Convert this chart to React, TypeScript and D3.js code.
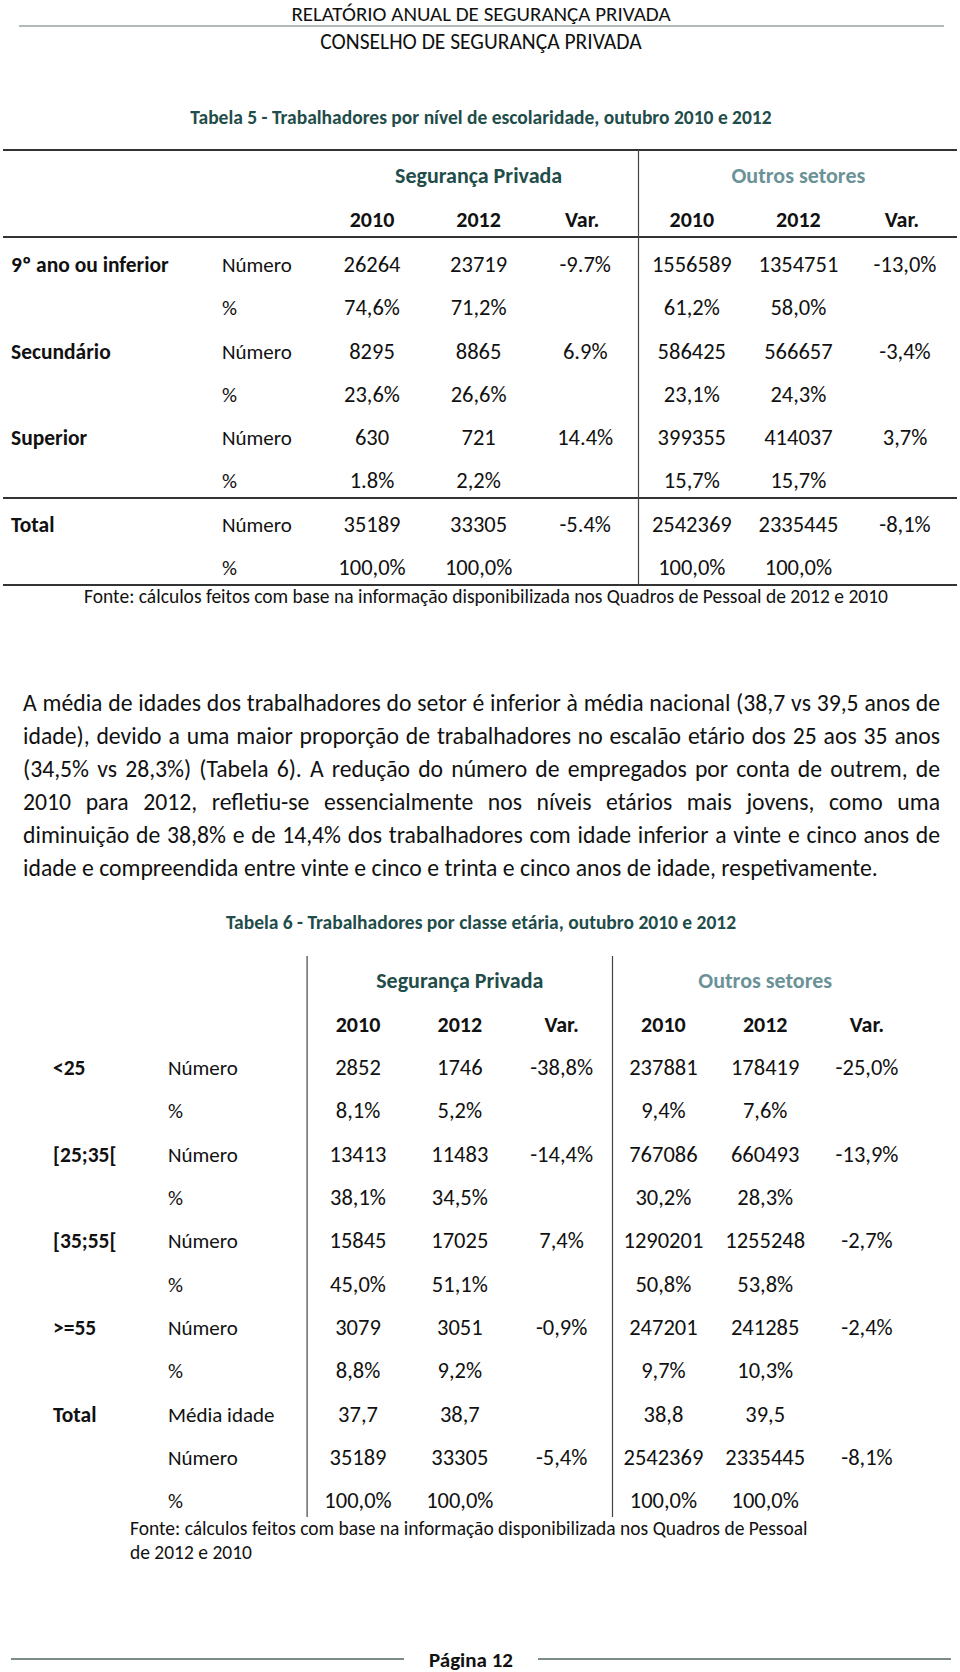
import React, { useEffect, useRef } from "react";
import * as d3 from "d3";

const W = 960;
const H = 1672;
const FONT = "Carlito, Calibri, Lato, sans-serif";
const TEAL = "#1f4d4a";
const TEAL_LIGHT = "#6b9297";

// Tabela 5 - escolaridade
const levels = ["9º ano ou inferior", "Secundário", "Superior", "Total"];
const segNum2010 = [26264, 8295, 630, 35189];
const segNum2012 = [23719, 8865, 721, 33305];
const segVar = ["-9.7%", "6.9%", "14.4%", "-5.4%"];
const segPct2010 = ["74,6%", "23,6%", "1.8%", "100,0%"];
const segPct2012 = ["71,2%", "26,6%", "2,2%", "100,0%"];
const outNum2010 = [1556589, 586425, 399355, 2542369];
const outNum2012 = [1354751, 566657, 414037, 2335445];
const outVar = ["-13,0%", "-3,4%", "3,7%", "-8,1%"];
const outPct2010 = ["61,2%", "23,1%", "15,7%", "100,0%"];
const outPct2012 = ["58,0%", "24,3%", "15,7%", "100,0%"];

// Tabela 6 - classe etária
const ages = ["<25", "[25;35[", "[35;55[", ">=55"];
const segAge2010 = [2852, 13413, 15845, 3079];
const segAge2012 = [1746, 11483, 17025, 3051];
const segAgeVar = ["-38,8%", "-14,4%", "7,4%", "-0,9%"];
const segAgePct2010 = ["8,1%", "38,1%", "45,0%", "8,8%"];
const segAgePct2012 = ["5,2%", "34,5%", "51,1%", "9,2%"];
const outAge2010 = [237881, 767086, 1290201, 247201];
const outAge2012 = [178419, 660493, 1255248, 241285];
const outAgeVar = ["-25,0%", "-13,9%", "-2,7%", "-2,4%"];
const outAgePct2010 = ["9,4%", "30,2%", "50,8%", "9,7%"];
const outAgePct2012 = ["7,6%", "28,3%", "53,8%", "10,3%"];
const mediaIdade = ["37,7", "38,7", "38,8", "39,5"];
const totalNum = [35189, 33305, 2542369, 2335445];
const totalVar = ["-5,4%", "-8,1%"];

const years = ["2010", "2012", "Var.", "2010", "2012", "Var."];

const paragraph = [
  "A média de idades dos trabalhadores do setor é inferior à média nacional (38,7 vs 39,5 anos de",
  "idade), devido a uma maior proporção de trabalhadores no escalão etário dos 25 aos 35 anos",
  "(34,5% vs 28,3%) (Tabela 6). A redução do número de empregados por conta de outrem, de",
  "2010 para 2012, refletiu-se essencialmente nos níveis etários mais jovens, como uma",
  "diminuição de 38,8% e de 14,4% dos trabalhadores com idade inferior a vinte e cinco anos de",
  "idade e compreendida entre vinte e cinco e trinta e cinco anos de idade, respetivamente.",
];

const TS = 22.5; // table text size

export default function App() {
  const ref = useRef<SVGSVGElement>(null);

  useEffect(() => {
    const svg = d3.select(ref.current);
    svg.selectAll("*").remove();
    svg.attr("font-family", FONT);

    const text = (x, y, s, opts: any = {}) =>
      svg.append("text")
        .attr("x", x).attr("y", y)
        .attr("text-anchor", opts.anchor || "middle")
        .attr("font-size", opts.size || TS)
        .attr("font-weight", opts.bold ? "bold" : "normal")
        .attr("fill", opts.color || "#111")
        .text(s);

    const line = (x1, y1, x2, y2, color, w) =>
      svg.append("line")
        .attr("x1", x1).attr("y1", y1).attr("x2", x2).attr("y2", y2)
        .attr("stroke", color).attr("stroke-width", w);

    // page header
    text(481, 20.5, "RELATÓRIO ANUAL DE SEGURANÇA PRIVADA", { size: 21 });
    line(19, 26, 944, 26, "#9aa3a3", 1.5);
    text(481, 49, "CONSELHO DE SEGURANÇA PRIVADA", { size: 21.5 });

    // ---------- Tabela 5 ----------
    text(481, 124, "Tabela 5 - Trabalhadores por nível de escolaridade, outubro 2010 e 2012", { size: 19.5, bold: true, color: TEAL });

    const x5 = d3.scalePoint<number>().domain(d3.range(6)).range([372, 905]);
    const y5 = d3.scaleLinear().domain([0, 7]).range([272, 575]);

    const rows5 = levels.flatMap((lv, i) => [
      [lv, "Número", String(segNum2010[i]), String(segNum2012[i]), segVar[i], String(outNum2010[i]), String(outNum2012[i]), outVar[i]],
      ["", "%", segPct2010[i], segPct2012[i], "", outPct2010[i], outPct2012[i], ""],
    ]);

    const mid5 = ((x5(2) as number) + (x5(3) as number)) / 2;
    line(3, 150, 957, 150, "#333", 2);
    line(3, 237, 957, 237, "#333", 2);
    line(3, 498, 957, 498, "#333", 2);
    line(3, 585, 957, 585, "#333", 2);
    line(mid5, 150, mid5, 585, "#444", 1.2);

    text(((x5(0) as number) + (x5(2) as number)) / 2, 183, "Segurança Privada", { bold: true, color: TEAL, size: 22 });
    text(((x5(3) as number) + (x5(5) as number)) / 2, 183, "Outros setores", { bold: true, color: TEAL_LIGHT, size: 22 });
    years.forEach((yr, j) => text(x5(j) - (j % 3 === 2 ? 3 : 0), 227, yr, { bold: true, size: 22 }));

    rows5.forEach((r, i) => {
      const y = y5(i);
      if (r[0]) text(11, y, r[0], { anchor: "start", bold: true, size: 21.5 });
      text(222, y, r[1], { anchor: "start", size: 21 });
      r.slice(2).forEach((v, j) => { if (v) text(x5(j), y, v); });
    });

    text(486, 603, "Fonte: cálculos feitos com base na informação disponibilizada nos Quadros de Pessoal de 2012 e 2010", { size: 19.5 });

    // ---------- paragraph (justified) ----------
    const left = 23, right = 940, lh = 33, top = 711, ps = 23.7;
    paragraph.forEach((ln, i) => {
      const words = ln.split(" ");
      const g = svg.append("g");
      const nodes = words.map((w) =>
        g.append("text").attr("font-size", ps).attr("fill", "#111").attr("y", top + i * lh).text(w)
      );
      const widths = nodes.map((n) => (n.node() as SVGTextElement).getComputedTextLength());
      const sum = d3.sum(widths);
      const last = i === paragraph.length - 1;
      const gap = last ? ps * 0.23 : (right - left - sum) / (words.length - 1);
      let x = left;
      nodes.forEach((n, k) => { n.attr("x", x); x += widths[k] + gap; });
    });

    // ---------- Tabela 6 ----------
    text(481, 929, "Tabela 6 - Trabalhadores por classe etária, outubro 2010 e 2012", { size: 19.5, bold: true, color: TEAL });

    const x6 = d3.scalePoint<number>().domain(d3.range(6)).range([358, 867]);
    const y6 = d3.scaleLinear().domain([0, 10]).range([1075, 1508.3]);
    const step6 = x6.step();

    const rows6 = ages.flatMap((a, i) => [
      [a, "Número", String(segAge2010[i]), String(segAge2012[i]), segAgeVar[i], String(outAge2010[i]), String(outAge2012[i]), outAgeVar[i]],
      ["", "%", segAgePct2010[i], segAgePct2012[i], "", outAgePct2010[i], outAgePct2012[i], ""],
    ]);
    rows6.push(["Total", "Média idade", mediaIdade[0], mediaIdade[1], "", mediaIdade[2], mediaIdade[3], ""]);
    rows6.push(["", "Número", String(totalNum[0]), String(totalNum[1]), totalVar[0], String(totalNum[2]), String(totalNum[3]), totalVar[1]]);
    rows6.push(["", "%", "100,0%", "100,0%", "", "100,0%", "100,0%", ""]);

    const v1 = (x6(0) as number) - step6 / 2;
    const v2 = ((x6(2) as number) + (x6(3) as number)) / 2;
    line(v1, 956, v1, 1517, "#444", 1.2);
    line(v2, 956, v2, 1517, "#444", 1.2);

    text(((x6(0) as number) + (x6(2) as number)) / 2, 988, "Segurança Privada", { bold: true, color: TEAL, size: 22 });
    text(((x6(3) as number) + (x6(5) as number)) / 2, 988, "Outros setores", { bold: true, color: TEAL_LIGHT, size: 22 });
    years.forEach((yr, j) => text(x6(j), 1032, yr, { bold: true, size: 22 }));

    rows6.forEach((r, i) => {
      const y = y6(i);
      if (r[0]) text(53, y, r[0], { anchor: "start", bold: true, size: 21.5 });
      text(168, y, r[1], { anchor: "start", size: 21 });
      r.slice(2).forEach((v, j) => { if (v) text(x6(j), y, v); });
    });

    text(130, 1535, "Fonte: cálculos feitos com base na informação disponibilizada nos Quadros de Pessoal", { size: 19.5, anchor: "start" });
    text(130, 1559, "de 2012 e 2010", { size: 19.5, anchor: "start" });

    // footer
    line(11, 1659, 404, 1659, "#7d8c89", 2);
    line(538, 1659, 951, 1659, "#7d8c89", 2);
    text(471, 1667, "Página 12", { size: 21, bold: true });
  }, []);

  return (
    <svg
      ref={ref}
      width={W}
      height={H}
      style={{ position: "absolute", left: 0, top: 0, background: "#fff" }}
    />
  );
}
